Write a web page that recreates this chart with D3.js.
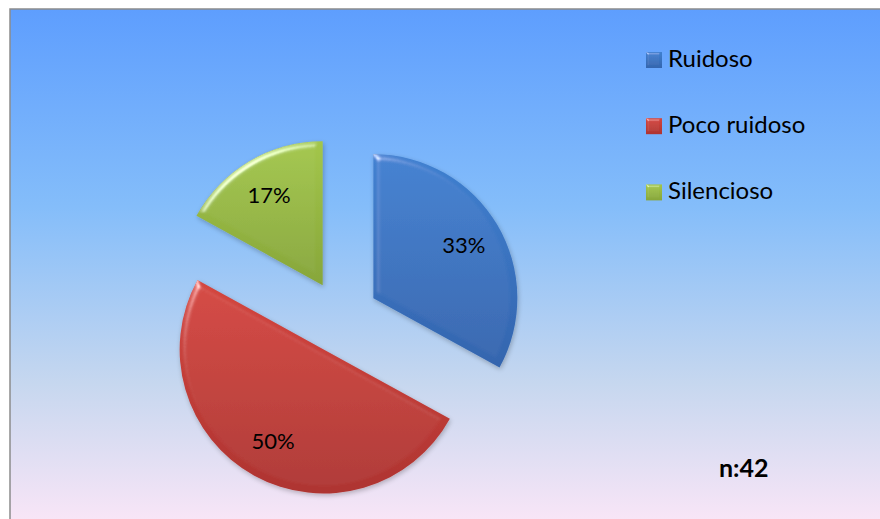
<!DOCTYPE html>
<html>
<head>
<meta charset="utf-8">
<script src="https://cdn.jsdelivr.net/npm/d3@7"></script>
<style>
  html, body { margin: 0; padding: 0; background: #ffffff; }
  svg { display: block; }
  text { font-family: Lato, "Noto Sans", sans-serif; fill: #000; }
</style>
</head>
<body>
<svg id="chart" width="880" height="519"></svg>
<script>
// Noise perception survey
const categories = ["Ruidoso", "Poco ruidoso", "Silencioso"];
const shares = [33, 50, 17];
const shareLabels = ["33%", "50%", "17%"];
const sampleNote = "n:42";

const sliceTop = ["#3f80d0", "#d4463f", "#a3c64b"];
const sliceBottom = ["#3465ae", "#ae3431", "#87a63a"];

const W = 880, H = 519;
const svg = d3.select("#chart");
const defs = svg.append("defs");

// background wash
const bg = defs.append("linearGradient").attr("id", "bg")
  .attr("x1", 0).attr("y1", 0).attr("x2", 0).attr("y2", 1);
[[0, "#5e9efe"], [0.38, "#84bdfa"], [0.72, "#c6d7ef"], [1, "#fbe6f7"]]
  .forEach(([o, c]) => bg.append("stop").attr("offset", o).attr("stop-color", c));

// per-slice vertical shading
categories.forEach((c, i) => {
  const g = defs.append("linearGradient").attr("id", "sl" + i)
    .attr("x1", 0).attr("y1", 0).attr("x2", 0).attr("y2", 1);
  g.append("stop").attr("offset", 0).attr("stop-color", sliceTop[i]);
  g.append("stop").attr("offset", 1).attr("stop-color", sliceBottom[i]);
});

// soft rounded bevel
function bevel(id, blur, scale, shadow) {
  const f = defs.append("filter").attr("id", id)
    .attr("x", "-15%").attr("y", "-15%").attr("width", "130%").attr("height", "130%");
  f.append("feGaussianBlur").attr("in", "SourceAlpha").attr("stdDeviation", blur).attr("result", "blur");
  const sp = f.append("feSpecularLighting").attr("in", "blur")
    .attr("surfaceScale", scale).attr("specularConstant", 0.6)
    .attr("specularExponent", 28).attr("lighting-color", "#ffffff").attr("result", "spec");
  sp.append("feDistantLight").attr("azimuth", 235).attr("elevation", 30);
  f.append("feComposite").attr("in", "spec").attr("in2", "SourceAlpha")
    .attr("operator", "in").attr("result", "specIn");
  f.append("feComposite").attr("in", "SourceGraphic").attr("in2", "specIn")
    .attr("operator", "arithmetic").attr("k1", 0).attr("k2", 1).attr("k3", 1).attr("k4", 0)
    .attr("result", "lit");
  if (shadow) {
    f.append("feGaussianBlur").attr("in", "SourceAlpha").attr("stdDeviation", 2.5).attr("result", "sb");
    f.append("feOffset").attr("in", "sb").attr("dx", 1).attr("dy", 2).attr("result", "so");
    f.append("feComponentTransfer").attr("in", "so").attr("result", "sf")
      .append("feFuncA").attr("type", "linear").attr("slope", 0.25);
    const m = f.append("feMerge");
    m.append("feMergeNode").attr("in", "sf");
    m.append("feMergeNode").attr("in", "lit");
  }
}
bevel("bevel", 3.2, 4, true);
bevel("bevelSmall", 1.2, 2, false);

// chart area
svg.append("rect").attr("x", 10).attr("y", 9).attr("width", W).attr("height", H)
  .attr("fill", "url(#bg)").attr("stroke", "#8c8c8c").attr("stroke-width", 1.5);

// exploded pie
const cx = 341.5, cy = 317, R = 144, explode = 37;
const pie = d3.pie().sort(null).value(d => d)(shares);
const arc = d3.arc().innerRadius(0).outerRadius(R);
const labelArc = d3.arc().innerRadius(R * 0.73).outerRadius(R * 0.73);

const slices = svg.append("g").attr("transform", `translate(${cx},${cy})`)
  .selectAll("g").data(pie).join("g")
  .attr("transform", d => {
    const mid = (d.startAngle + d.endAngle) / 2;
    return `translate(${Math.sin(mid) * explode},${-Math.cos(mid) * explode})`;
  });

slices.append("path")
  .attr("d", arc)
  .attr("fill", (d, i) => `url(#sl${i})`)
  .attr("filter", "url(#bevel)");

slices.append("text")
  .attr("transform", d => `translate(${labelArc.centroid(d)})`)
  .attr("text-anchor", "middle")
  .attr("dy", "0.36em")
  .style("font-size", "22px")
  .text((d, i) => shareLabels[i]);

// legend
const legend = svg.append("g").attr("transform", "translate(646,67)");
const rows = legend.selectAll("g").data(categories).join("g")
  .attr("transform", (d, i) => `translate(0,${i * 66.2})`);
rows.append("rect")
  .attr("x", 0).attr("y", -15).attr("width", 16).attr("height", 16)
  .attr("fill", (d, i) => `url(#sl${i})`)
  .attr("filter", "url(#bevelSmall)");
rows.append("text")
  .attr("x", 22).attr("y", 0)
  .style("font-size", "24px")
  .text(d => d);

// sample size
svg.append("text")
  .attr("x", 719).attr("y", 477)
  .style("font-size", "25px").style("font-weight", "bold")
  .text(sampleNote);
</script>
</body>
</html>
